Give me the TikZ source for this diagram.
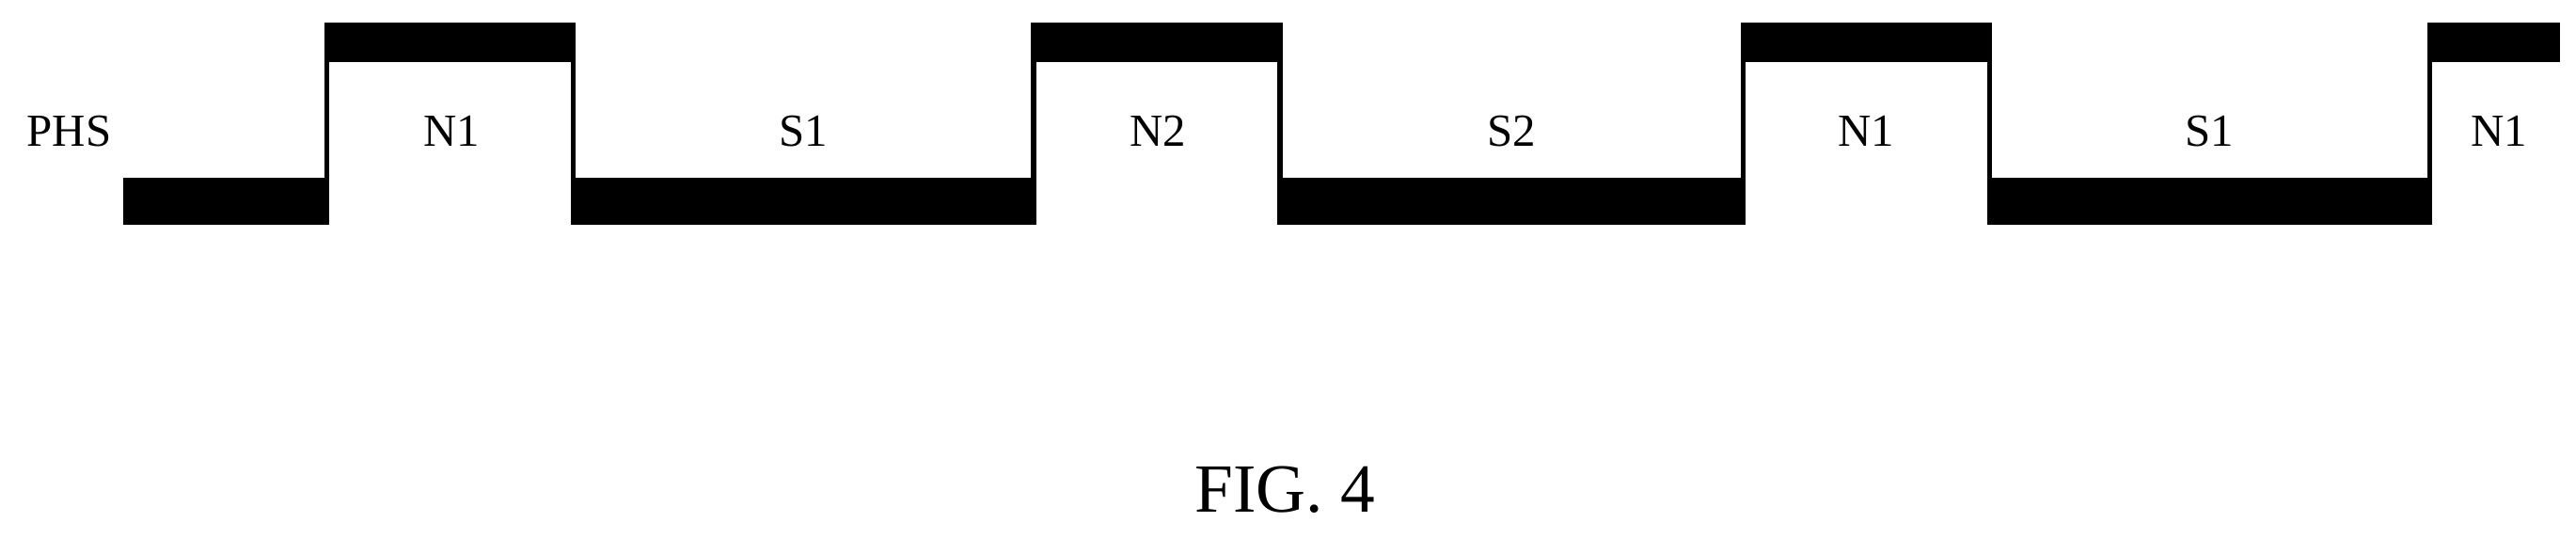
\documentclass[tikz,border=0pt]{standalone}
\usepackage{fontspec}
\setmainfont{Liberation Serif}
\begin{document}
\begin{tikzpicture}[x=0.5pt,y=-0.5pt,
  lbl/.style={font=\fontsize{14}{16}\selectfont},
  band/.style={fill=black},
  edge/.style={line width=1.6pt}]
\useasboundingbox (0,0) rectangle (1568,327);
% low bands
\foreach \a/\b in {75/199,349/629,779/1061,1211/1479}
  \fill[band] (\a,108) rectangle (\b,137);
% high bands
\foreach \a/\b in {199/349,629/779,1061/1211,1479/1558}
  \fill[band] (\a,14) rectangle (\b,38);
% edges
\foreach \x in {199,349,629,779,1061,1211,1479}
  \draw[edge] (\x,14) -- (\x,137);
\node[lbl] (phs) at (42,80) {PHS};
\node[lbl] (n1a) at (275,80) {N1};
\node[lbl] (s1a) at (489,80) {S1};
\node[lbl] (n2) at (705,80) {N2};
\node[lbl] (s2) at (920,80) {S2};
\node[lbl] (n1b) at (1136,80) {N1};
\node[lbl] (s1b) at (1345,80) {S1};
\node[lbl] (n1c) at (1521,80) {N1};
\node[font=\fontsize{21}{24}\selectfont] (fig) at (782,298) {FIG. 4};
\end{tikzpicture}
\end{document}
